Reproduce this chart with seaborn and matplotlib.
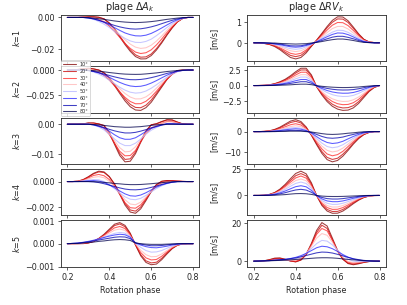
import matplotlib
matplotlib.use("Agg")
import matplotlib.pyplot as plt
import numpy as np
import pandas as pd
import seaborn as sns

phase = [0.200, 0.225, 0.250, 0.275, 0.300, 0.325, 0.350, 0.375, 0.400,
         0.425, 0.450, 0.475, 0.500, 0.525, 0.550, 0.575, 0.600, 0.625,
         0.650, 0.675, 0.700, 0.725, 0.750, 0.775, 0.800]
latitudes = ["10°", "20°", "30°", "40°", "50°", "60°", "70°", "80°"]

# plage Delta A_k, k=1..3 in units of 1e-3, k=4..5 in units of 1e-4
dA1 = [
    [0, 0, 0, 0.2, 0.4, 0.4, 0.1, -0.9, -3.6, -7.4, -12.1, -17.0, -21.2, -24.5, -26.0, -25.9, -23.9, -20.4, -16.0, -11.1, -6.6, -2.8, -0.6, 0, 0],
    [0, 0, 0, 0.2, 0.4, 0.4, 0.1, -0.9, -3.4, -7.1, -11.6, -16.2, -20.3, -23.4, -24.9, -24.7, -22.9, -19.5, -15.3, -10.6, -6.3, -2.7, -0.6, 0, 0],
    [0, 0, 0, 0.1, 0, -0.5, -1.3, -2.8, -5.4, -8.7, -12.5, -16.3, -19.4, -21.7, -22.6, -22.1, -20.3, -17.2, -13.5, -9.4, -5.7, -2.6, -0.6, 0, 0],
    [0, 0, 0, 0.1, 0, -0.4, -1.1, -2.4, -4.6, -7.5, -10.8, -14.0, -16.7, -18.6, -19.4, -19.0, -17.4, -14.8, -11.6, -8.1, -4.9, -2.2, -0.5, 0, 0],
    [0, 0, 0, 0, -0.4, -1.2, -2.5, -4.2, -6.3, -8.7, -11.0, -13.1, -14.7, -15.6, -15.7, -15.0, -13.6, -11.4, -8.9, -6.3, -3.9, -1.9, -0.6, 0, 0],
    [0, 0, 0, 0, -0.3, -0.9, -1.8, -3.1, -4.6, -6.4, -8.1, -9.7, -10.8, -11.5, -11.6, -11.1, -10.0, -8.4, -6.6, -4.7, -2.9, -1.4, -0.4, 0, 0],
    [0, 0, 0, 0, -0.3, -0.9, -1.8, -2.8, -3.9, -5.0, -5.9, -6.6, -7.1, -7.3, -7.1, -6.6, -5.9, -5.0, -3.9, -2.8, -1.8, -0.9, -0.3, 0, 0],
    [0, 0, 0, 0, -0.1, -0.4, -0.8, -1.2, -1.7, -2.2, -2.6, -2.9, -3.1, -3.2, -3.1, -2.9, -2.6, -2.2, -1.7, -1.2, -0.8, -0.4, -0.1, 0, 0],
]
dA2 = [
    [0, 0, 0.6, 1.4, 1.8, 1.2, 0, -2.9, -8.4, -15.7, -23.7, -31.2, -37.1, -40.4, -40.8, -38.0, -32.6, -25.0, -17.3, -9.7, -3.9, -0.6, 0, 0, 0],
    [0, 0, 0.6, 1.3, 1.7, 1.1, 0, -2.7, -7.9, -14.7, -22.1, -29.1, -34.7, -37.8, -38.1, -35.5, -30.4, -23.4, -16.2, -9.1, -3.6, -0.5, 0, 0, 0],
    [0, 0, 0.4, 0.8, 0.7, -0.5, -2.3, -5.4, -10.1, -16.0, -22.1, -27.6, -31.8, -34.1, -34.0, -31.6, -27.2, -21.4, -15.2, -9.2, -4.3, -1.3, -0.3, 0, 0],
    [0, 0, 0.3, 0.7, 0.6, -0.4, -2.0, -4.6, -8.7, -13.7, -18.9, -23.7, -27.3, -29.2, -29.1, -27.1, -23.4, -18.3, -13.0, -7.8, -3.7, -1.1, -0.2, 0, 0],
    [0, 0, 0.1, 0.2, -0.5, -2.0, -4.1, -6.8, -10.2, -13.9, -17.4, -20.3, -22.4, -23.3, -22.9, -21.2, -18.4, -14.9, -11.1, -7.3, -4.1, -1.7, -0.5, 0, 0],
    [0, 0, 0.1, 0.1, -0.4, -1.4, -2.9, -4.9, -7.3, -10.0, -12.5, -14.6, -16.1, -16.7, -16.4, -15.2, -13.2, -10.7, -7.9, -5.2, -3.0, -1.2, -0.4, 0, 0],
    [0, 0, 0, -0.1, -0.6, -1.4, -2.6, -4.0, -5.5, -6.9, -8.1, -9.1, -9.7, -9.8, -9.5, -8.8, -7.7, -6.4, -4.9, -3.4, -2.2, -1.0, -0.3, 0, 0],
    [0, 0, 0, 0, -0.3, -0.6, -1.2, -1.8, -2.5, -3.1, -3.7, -4.1, -4.3, -4.4, -4.3, -3.9, -3.4, -2.9, -2.2, -1.5, -1.0, -0.5, -0.1, 0, 0],
]
dA3 = [
    [0, 0, 0, 0.1, 0.4, 0.4, 0.1, -0.5, -2.9, -6.7, -10.4, -12.5, -12.3, -9.8, -6.0, -2.4, -0.2, 0.2, 0.9, 1.5, 1.4, 0.7, 0.1, 0, 0],
    [0, 0, 0, 0.1, 0.4, 0.4, 0.1, -0.4, -2.7, -6.3, -9.7, -11.7, -11.5, -9.2, -5.6, -2.2, -0.2, 0.1, 0.8, 1.4, 1.4, 0.7, 0.1, 0, 0],
    [0, 0, 0, 0.1, 0.2, 0.1, -0.5, -1.3, -3.4, -6.3, -9.0, -10.5, -10.4, -8.7, -5.9, -3.1, -1.3, -0.5, 0.3, 0.9, 0.9, 0.4, 0.1, 0, 0],
    [0, 0, 0, 0.1, 0.2, 0, -0.4, -1.1, -2.9, -5.5, -7.8, -9.2, -9.0, -7.5, -5.1, -2.7, -1.1, -0.5, 0.3, 0.8, 0.8, 0.4, 0, 0, 0],
    [0, 0, 0, 0, 0.1, -0.3, -0.9, -1.9, -3.3, -4.9, -6.3, -7.1, -7.1, -6.3, -4.9, -3.3, -2.0, -1.1, -0.3, 0.2, 0.3, 0.1, 0, 0, 0],
    [0, 0, 0, 0, 0, -0.2, -0.7, -1.3, -2.3, -3.5, -4.5, -5.0, -5.0, -4.5, -3.5, -2.4, -1.4, -0.8, -0.2, 0.2, 0.2, 0.1, 0, 0, 0],
    [0, 0, 0, 0, 0, -0.2, -0.6, -1.1, -1.7, -2.2, -2.6, -2.9, -2.9, -2.7, -2.3, -1.8, -1.2, -0.7, -0.3, 0, 0, 0, 0, 0, 0],
    [0, 0, 0, 0, 0, -0.1, -0.2, -0.4, -0.6, -0.8, -0.9, -1.0, -1.0, -0.9, -0.8, -0.6, -0.4, -0.2, -0.1, 0, 0, 0, 0, 0, 0],
]
dA4 = [
    [0, 0, 0.3, 1.5, 3.8, 6.5, 8.2, 7.6, 4.0, -2.0, -10.0, -18.5, -24.0, -25.0, -21.5, -15.0, -8.0, -2.5, 0.2, 0.8, 0.7, 0.4, 0.1, 0, 0],
    [0, 0, 0.3, 1.4, 3.5, 6.1, 7.6, 7.1, 3.7, -1.9, -9.3, -17.2, -22.4, -23.3, -20.0, -14.0, -7.5, -2.3, 0.2, 0.7, 0.7, 0.4, 0.1, 0, 0],
    [0, 0, 0.2, 1.1, 2.9, 4.8, 5.6, 4.6, 1.6, -3.4, -10.2, -16.6, -20.6, -21.0, -18.3, -13.3, -7.9, -3.4, -0.9, 0, 0.3, 0.3, 0.1, 0, 0],
    [0, 0, 0.2, 0.8, 2.1, 3.4, 3.9, 3.0, 0.2, -3.9, -9.0, -14.3, -17.7, -18.3, -16.2, -12.2, -7.6, -3.8, -1.5, -0.5, 0, 0.2, 0.1, 0, 0],
    [0, 0, 0.1, 0.4, 1.1, 1.6, 1.4, 0, -2.6, -5.6, -9.0, -12.0, -13.9, -14.3, -13.2, -10.9, -8.2, -5.5, -3.3, -1.7, -0.6, 0, 0, 0, 0],
    [0, 0, 0, 0.2, 0.6, 0.8, 0.4, -0.7, -2.6, -4.8, -7.4, -9.7, -11.2, -11.5, -10.6, -8.8, -6.6, -4.4, -2.7, -1.4, -0.5, 0, 0, 0, 0],
    [0, 0, 0, 0, 0, -0.2, -0.8, -1.7, -2.8, -3.9, -5.0, -5.9, -6.4, -6.5, -6.2, -5.6, -4.6, -3.5, -2.3, -1.3, -0.5, -0.1, 0, 0, 0],
    [0, 0, 0, 0, 0, -0.1, -0.3, -0.6, -1.0, -1.5, -1.8, -2.2, -2.4, -2.4, -2.3, -2.0, -1.7, -1.3, -0.9, -0.5, -0.2, 0, 0, 0, 0],
]
dA5 = [
    [0, 0, 0, 0.1, 0.3, 1.0, 2.3, 4.1, 6.3, 8.5, 9.2, 8.0, 4.6, -0.6, -5.3, -8.2, -9.2, -8.9, -7.0, -4.5, -2.2, -0.7, -0.1, 0, 0],
    [0, 0, 0, 0, 0.3, 0.9, 2.1, 3.8, 5.9, 7.9, 8.6, 7.4, 4.2, -0.5, -4.8, -7.5, -8.4, -8.1, -6.4, -4.1, -2.0, -0.6, -0.1, 0, 0],
    [0, 0, 0.1, 0.2, 0.5, 1.1, 2.2, 3.6, 5.3, 6.9, 7.5, 6.6, 3.8, -0.3, -3.9, -6.2, -7.1, -6.9, -5.5, -3.6, -1.8, -0.6, -0.1, 0, 0],
    [0, 0, 0.1, 0.3, 0.6, 1.2, 2.1, 3.3, 4.6, 5.9, 6.4, 5.8, 3.4, -0.1, -2.9, -4.8, -5.7, -5.6, -4.5, -3.0, -1.5, -0.5, -0.1, 0, 0],
    [0, 0.1, 0.2, 0.4, 0.7, 1.2, 1.9, 2.8, 3.7, 4.5, 4.9, 4.6, 3.0, 0.1, -1.6, -3.0, -3.7, -3.6, -3.0, -2.0, -1.1, -0.4, -0.1, 0, 0],
    [0, 0.1, 0.3, 0.6, 1.0, 1.5, 2.1, 2.7, 3.3, 3.8, 4.1, 3.9, 2.8, 0.3, -0.6, -1.3, -1.7, -1.8, -1.5, -1.1, -0.6, -0.2, 0, 0, 0],
    [0, 0.1, 0.2, 0.5, 0.8, 1.2, 1.6, 2.0, 2.4, 2.8, 3.0, 2.9, 2.2, 0.4, -0.2, -0.6, -0.9, -0.9, -0.8, -0.5, -0.3, -0.1, 0, 0, 0],
    [0, 0.1, 0.1, 0.3, 0.5, 0.7, 1.0, 1.2, 1.5, 1.7, 1.8, 1.7, 1.4, 0.3, 0, -0.2, -0.3, -0.3, -0.3, -0.2, -0.1, 0, 0, 0, 0],
]

# plage Delta RV_k in m/s
dRV1 = [
    [0, -0.01, -0.03, -0.08, -0.18, -0.33, -0.52, -0.70, -0.77, -0.70, -0.48, -0.17, 0.13, 0.45, 0.78, 1.07, 1.24, 1.23, 1.05, 0.75, 0.43, 0.17, 0.04, 0.01, 0],
    [0, -0.01, -0.03, -0.07, -0.15, -0.28, -0.45, -0.60, -0.66, -0.60, -0.41, -0.15, 0.12, 0.41, 0.72, 0.98, 1.14, 1.13, 0.97, 0.69, 0.40, 0.16, 0.04, 0.01, 0],
    [0, -0.01, -0.02, -0.06, -0.13, -0.24, -0.37, -0.50, -0.55, -0.50, -0.34, -0.12, 0.10, 0.35, 0.61, 0.84, 0.97, 0.96, 0.82, 0.59, 0.34, 0.13, 0.03, 0.01, 0],
    [0, -0.01, -0.02, -0.04, -0.10, -0.18, -0.28, -0.38, -0.42, -0.38, -0.26, -0.09, 0.08, 0.28, 0.49, 0.68, 0.78, 0.78, 0.66, 0.47, 0.27, 0.11, 0.03, 0.01, 0],
    [0, 0, -0.01, -0.03, -0.07, -0.13, -0.21, -0.28, -0.31, -0.28, -0.19, -0.07, 0.06, 0.22, 0.37, 0.51, 0.60, 0.59, 0.50, 0.36, 0.21, 0.08, 0.02, 0, 0],
    [0, 0, -0.01, -0.02, -0.05, -0.09, -0.14, -0.19, -0.21, -0.19, -0.13, -0.05, 0.05, 0.17, 0.29, 0.40, 0.47, 0.46, 0.39, 0.28, 0.16, 0.06, 0.02, 0, 0],
    [0, 0, -0.01, -0.02, -0.04, -0.06, -0.10, -0.14, -0.15, -0.14, -0.09, -0.03, 0.03, 0.11, 0.19, 0.27, 0.31, 0.31, 0.26, 0.19, 0.11, 0.04, 0.01, 0, 0],
    [0, 0, 0, -0.01, -0.01, -0.03, -0.04, -0.05, -0.06, -0.05, -0.04, -0.01, 0.02, 0.06, 0.11, 0.15, 0.18, 0.18, 0.15, 0.11, 0.06, 0.02, 0.01, 0, 0],
]
dRV2 = [
    [0, 0.01, 0.04, 0.12, 0.30, 0.60, 1.00, 1.55, 2.20, 2.75, 2.75, 1.70, -0.20, -1.50, -2.55, -3.30, -3.75, -3.95, -3.90, -3.55, -2.85, -1.90, -0.95, -0.30, 0],
    [0, 0.01, 0.04, 0.11, 0.27, 0.54, 0.90, 1.40, 1.98, 2.48, 2.48, 1.53, -0.18, -1.35, -2.30, -2.97, -3.38, -3.56, -3.51, -3.20, -2.57, -1.71, -0.86, -0.27, 0],
    [0, 0.01, 0.03, 0.09, 0.23, 0.46, 0.77, 1.19, 1.69, 2.12, 2.12, 1.31, -0.15, -1.16, -1.96, -2.54, -2.89, -3.04, -3.00, -2.73, -2.19, -1.46, -0.73, -0.23, 0],
    [0, 0.01, 0.03, 0.08, 0.19, 0.38, 0.63, 0.98, 1.39, 1.73, 1.73, 1.07, -0.13, -0.96, -1.63, -2.11, -2.40, -2.53, -2.50, -2.27, -1.82, -1.22, -0.61, -0.19, 0],
    [0, 0, 0.02, 0.06, 0.15, 0.29, 0.49, 0.76, 1.08, 1.35, 1.35, 0.83, -0.09, -0.66, -1.12, -1.45, -1.65, -1.74, -1.72, -1.56, -1.25, -0.84, -0.42, -0.13, 0],
    [0, 0, 0.01, 0.04, 0.11, 0.21, 0.35, 0.54, 0.77, 0.96, 0.96, 0.60, -0.06, -0.47, -0.79, -1.02, -1.16, -1.22, -1.21, -1.10, -0.88, -0.59, -0.29, -0.09, 0],
    [0, 0, 0.01, 0.03, 0.07, 0.13, 0.22, 0.34, 0.48, 0.61, 0.61, 0.37, -0.04, -0.27, -0.46, -0.59, -0.68, -0.71, -0.70, -0.64, -0.51, -0.34, -0.17, -0.05, 0],
    [0, 0, 0, 0.01, 0.02, 0.05, 0.08, 0.12, 0.18, 0.22, 0.22, 0.14, -0.02, -0.12, -0.20, -0.26, -0.30, -0.32, -0.31, -0.28, -0.23, -0.15, -0.08, -0.02, 0],
]
dRV3 = [
    [0, 0, 0.1, 0.4, 1.1, 2.2, 3.7, 5.2, 5.9, 5.0, 2.3, -1.8, -6.5, -10.8, -13.9, -15.0, -14.3, -12.2, -9.3, -6.2, -3.5, -1.5, -0.4, 0, 0],
    [0, 0, 0.1, 0.3, 0.9, 1.9, 3.2, 4.5, 5.1, 4.3, 2.0, -1.7, -6.0, -9.9, -12.8, -13.8, -13.2, -11.2, -8.6, -5.7, -3.2, -1.4, -0.4, 0, 0],
    [0, 0, 0.1, 0.3, 0.7, 1.5, 2.4, 3.4, 3.9, 3.3, 1.5, -1.4, -5.2, -8.6, -11.1, -12.0, -11.4, -9.8, -7.4, -5.0, -2.8, -1.2, -0.3, 0, 0],
    [0, 0, 0, 0.2, 0.5, 1.1, 1.8, 2.5, 2.9, 2.5, 1.1, -1.2, -4.4, -7.2, -9.3, -10.1, -9.6, -8.2, -6.2, -4.2, -2.3, -1.0, -0.3, 0, 0],
    [0, 0, 0, 0.1, 0.4, 0.7, 1.3, 1.8, 2.0, 1.7, 0.8, -1.0, -3.4, -5.7, -7.4, -8.0, -7.6, -6.5, -4.9, -3.3, -1.9, -0.8, -0.2, 0, 0],
    [0, 0, 0, 0.1, 0.3, 0.5, 0.9, 1.2, 1.4, 1.2, 0.5, -0.7, -2.5, -4.2, -5.4, -5.9, -5.6, -4.8, -3.6, -2.4, -1.4, -0.6, -0.2, 0, 0],
    [0, 0, 0, 0, 0.1, 0.2, 0.4, 0.6, 0.6, 0.5, 0.2, -0.4, -1.4, -2.4, -3.1, -3.3, -3.1, -2.7, -2.0, -1.4, -0.8, -0.3, -0.1, 0, 0],
    [0, 0, 0, 0, 0, 0.1, 0.1, 0.2, 0.2, 0.2, 0, -0.2, -0.6, -1.0, -1.3, -1.4, -1.3, -1.1, -0.8, -0.6, -0.3, -0.1, 0, 0, 0],
]
dRV4 = [
    [0, 0, 0.2, 1.0, 2.8, 6.0, 10.5, 15.8, 20.8, 23.0, 20.5, 12.0, -0.2, -9.5, -14.8, -16.9, -16.8, -14.8, -11.5, -7.8, -4.5, -2.0, -0.6, -0.1, 0],
    [0, 0, 0.2, 0.9, 2.5, 5.4, 9.5, 14.2, 18.7, 20.7, 18.5, 10.8, -0.2, -8.6, -13.3, -15.2, -15.1, -13.3, -10.4, -7.0, -4.1, -1.8, -0.5, -0.1, 0],
    [0, 0, 0.2, 0.8, 2.2, 4.8, 8.4, 12.6, 16.6, 18.4, 16.4, 9.6, -0.2, -7.4, -11.5, -13.2, -13.1, -11.5, -9.0, -6.1, -3.5, -1.6, -0.5, -0.1, 0],
    [0, 0, 0.1, 0.7, 1.9, 4.1, 7.1, 10.7, 14.1, 15.6, 13.9, 8.2, -0.1, -6.2, -9.6, -11.0, -10.9, -9.6, -7.5, -5.1, -2.9, -1.3, -0.4, -0.1, 0],
    [0, 0, 0.1, 0.6, 1.5, 3.3, 5.8, 8.7, 11.4, 12.7, 11.3, 6.6, -0.1, -4.8, -7.4, -8.5, -8.4, -7.4, -5.8, -3.9, -2.3, -1.0, -0.3, 0, 0],
    [0, 0, 0.1, 0.4, 1.1, 2.4, 4.2, 6.3, 8.3, 9.2, 8.2, 4.8, -0.1, -3.3, -5.2, -5.9, -5.9, -5.2, -4.0, -2.7, -1.6, -0.7, -0.2, 0, 0],
    [0, 0, 0.1, 0.3, 0.7, 1.5, 2.6, 4.0, 5.2, 5.8, 5.1, 3.0, 0, -1.9, -3.0, -3.4, -3.4, -3.0, -2.3, -1.6, -0.9, -0.4, -0.1, 0, 0],
    [0, 0, 0, 0.1, 0.2, 0.5, 0.8, 1.3, 1.7, 1.8, 1.6, 1.0, 0, -0.6, -0.9, -1.0, -1.0, -0.9, -0.7, -0.5, -0.3, -0.1, 0, 0, 0],
]
dRV5 = [
    [0, 0, 0.2, 0.8, 1.6, 1.7, 1.0, 0.1, -0.4, 0.6, 3.6, 9.4, 16.3, 20.4, 18.6, 12.2, 5.6, 1.0, -1.3, -1.9, -1.4, -0.7, -0.2, 0, 0],
    [0, 0, 0.2, 0.7, 1.4, 1.5, 0.9, 0.1, -0.3, 0.6, 3.4, 8.8, 15.2, 19.0, 17.3, 11.4, 5.3, 1.0, -1.1, -1.6, -1.2, -0.6, -0.2, 0, 0],
    [0, 0, 0.1, 0.5, 1.0, 1.0, 0.6, 0.2, 0, 1.0, 3.8, 8.6, 14.2, 17.3, 16.0, 11.0, 5.5, 1.5, -0.6, -1.1, -0.8, -0.4, -0.1, 0, 0],
    [0, 0, 0.1, 0.3, 0.6, 0.6, 0.5, 0.4, 0.5, 1.5, 4.0, 7.9, 12.2, 14.6, 13.7, 10.0, 5.5, 2.0, -0.2, -0.7, -0.5, -0.2, 0, 0, 0],
    [0, 0, 0.1, 0.2, 0.4, 0.5, 0.6, 0.8, 1.3, 2.3, 4.2, 6.7, 9.3, 11.0, 10.6, 8.6, 5.8, 3.1, 1.1, 0, -0.3, -0.2, -0.1, 0, 0],
    [0, 0.1, 0.2, 0.3, 0.5, 0.7, 1.0, 1.4, 2.0, 2.9, 4.1, 5.6, 7.1, 7.9, 7.6, 6.6, 5.1, 3.5, 2.1, 1.1, 0.5, 0.2, 0.1, 0, 0],
    [0, 0.1, 0.2, 0.3, 0.5, 0.7, 0.9, 1.3, 1.7, 2.3, 3.0, 3.7, 4.4, 4.8, 4.7, 4.3, 3.6, 2.8, 2.0, 1.3, 0.8, 0.4, 0.2, 0.1, 0],
    [0, 0, 0.1, 0.2, 0.3, 0.4, 0.5, 0.7, 0.9, 1.1, 1.3, 1.5, 1.7, 1.8, 1.8, 1.7, 1.5, 1.2, 0.9, 0.7, 0.5, 0.3, 0.1, 0, 0],
]

dA_panels = [dA1, dA2, dA3, dA4, dA5]
dA_units = [1e-3, 1e-3, 1e-3, 1e-4, 1e-4]
dRV_panels = [dRV1, dRV2, dRV3, dRV4, dRV5]

dA_yticks = [[0.0, -0.02], [0.0, -0.025], [0.0, -0.01], [0.0, -0.002], [0.001, 0.0, -0.001]]
dRV_yticks = [[0, 1], [2.5, 0.0, -2.5], [0, -10], [25, 0], [0, 20]]


def to_frame(rows, unit=1.0):
    records = []
    for lat, row in zip(latitudes, rows):
        for p, v in zip(phase, row):
            records.append((p, v * unit, lat))
    return pd.DataFrame(records, columns=["phase", "value", "lat"])


sns.set_style("ticks")
plt.rcParams.update({
    "font.family": ["DejaVu Sans"],
    "xtick.labelsize": 9,
    "ytick.labelsize": 9,
    "axes.labelsize": 9,
    "axes.titlesize": 11,
    "axes.edgecolor": "0.2",
    "axes.linewidth": 1.0,
})

cmap = matplotlib.colormaps["seismic_r"]
palette = [cmap(x) for x in np.linspace(0, 1, len(latitudes))]

fig, axes = plt.subplots(5, 2, figsize=(6.4, 4.8), sharex=True)
fig.subplots_adjust(left=0.150, right=0.948, top=0.951, bottom=0.125,
                    wspace=0.347, hspace=0.11)

for k in range(5):
    panels = [(dA_panels[k], dA_units[k]), (dRV_panels[k], 1.0)]
    for col, (rows, unit) in enumerate(panels):
        ax = axes[k, col]
        sns.lineplot(
            data=to_frame(rows, unit),
            x="phase",
            y="value",
            hue="lat",
            hue_order=latitudes,
            palette=palette,
            linewidth=1.2,
            alpha=0.75,
            errorbar=None,
            legend=False,
            ax=ax,
        )
        ax.set_xlabel("")
        ax.set_ylabel("")
    axes[k, 0].set_yticks(dA_yticks[k])
    axes[k, 1].set_yticks(dRV_yticks[k])
    axes[k, 0].set_ylabel(f"$k$={k + 1}")
    axes[k, 1].set_ylabel("[m/s]")

axes[0, 0].set_title(r"plage $\Delta A_k$")
axes[0, 1].set_title(r"plage $\Delta RV_k$")
axes[4, 0].set_xticks([0.2, 0.4, 0.6, 0.8])
axes[4, 0].set_xlabel("Rotation phase")
axes[4, 1].set_xlabel("Rotation phase")

# legend of latitudes, overlapping the bottom of the k=1 panel
axes[1, 0].legend(
    axes[1, 0].get_lines(),
    latitudes,
    loc="upper left",
    bbox_to_anchor=(0.0, 1.13),
    borderaxespad=0.0,
    fontsize=5.5,
    labelspacing=0.35,
    handlelength=2.6,
    borderpad=0.4,
    frameon=True,
)

fig.align_ylabels(axes[:, 0])
fig.align_ylabels(axes[:, 1])

fig.savefig("out.png", dpi=407 / 6.4)
